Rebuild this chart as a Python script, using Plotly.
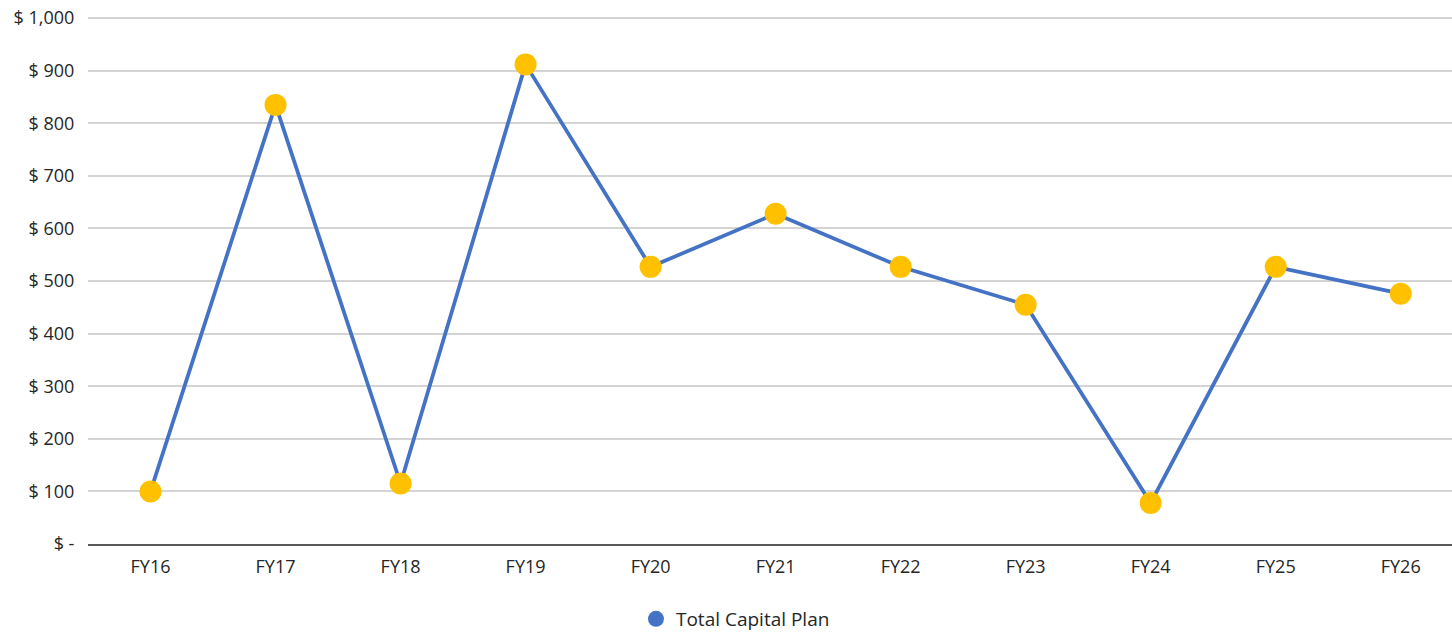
import plotly.graph_objects as go

categories = ["FY16", "FY17", "FY18", "FY19", "FY20", "FY21", "FY22", "FY23", "FY24", "FY25", "FY26"]
total_capital_plan = [100, 835, 115, 912, 527, 628, 527, 455, 78, 527, 476]
tick_values = [0, 100, 200, 300, 400, 500, 600, 700, 800, 900, 1000]
tick_labels = ["$ -", "$ 100", "$ 200", "$ 300", "$ 400", "$ 500", "$ 600", "$ 700", "$ 800", "$ 900", "$ 1,000"]
series_name = "Total Capital Plan"

LINE_BLUE = "#4472C4"
MARKER_GOLD = "#FFC000"
FONT = "Open Sans"
TEXT = "#262626"

fig = go.Figure()
fig.add_trace(go.Scatter(
    x=categories, y=total_capital_plan, mode="lines+markers",
    line=dict(color=LINE_BLUE, width=3.75),
    marker=dict(color=MARKER_GOLD, size=22),
    showlegend=False, name=series_name,
))
# legend entry (blue dot only, as in the reference)
fig.add_trace(go.Scatter(
    x=[None], y=[None], mode="markers",
    marker=dict(color=LINE_BLUE, size=22),
    name=series_name, showlegend=True,
))

fig.update_layout(
    width=1452, height=632,
    margin=dict(l=88, r=0, t=16, b=88),
    paper_bgcolor="white", plot_bgcolor="white",
    font=dict(family=FONT, size=18, color=TEXT),
    legend=dict(orientation="h", xref="container", yref="container",
                x=0.438, xanchor="left", y=0.0206, yanchor="middle",
                font=dict(size=19, color=TEXT), itemsizing="trace"),
    xaxis=dict(
        type="category", range=[-0.5, 10.41],
        showgrid=False, showline=True, linecolor="#595959", linewidth=2,
        ticks="outside", ticklen=5, tickcolor="rgba(0,0,0,0)",
        tickfont=dict(size=18, color=TEXT), zeroline=False, automargin=False,
    ),
    yaxis=dict(
        range=[0, 1004], tickvals=tick_values, ticktext=tick_labels,
        showgrid=True, gridcolor="#D4D4D4", gridwidth=1.75,
        zeroline=False, showline=False,
        ticks="outside", ticklen=9, tickcolor="rgba(0,0,0,0)",
        tickfont=dict(size=18, color=TEXT), automargin=False,
    ),
)

# remove the browser's default 8px page margin so the figure sits at the top-left corner
fig.write_html("out.html", config={"displayModeBar": False},
               post_script="document.body.style.margin='0';")
